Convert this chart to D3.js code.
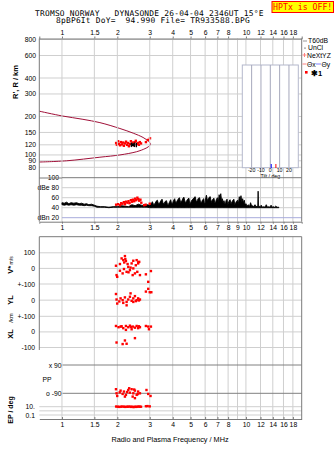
<!DOCTYPE html>
<html><head><meta charset="utf-8">
<script src="https://cdn.jsdelivr.net/npm/d3@7"></script>
<style>
body{margin:0;background:#fff}
text{font-family:"Liberation Sans",Arial,sans-serif;fill:#000}
.mono{font-family:"DejaVu Sans Mono",monospace}
</style></head><body>
<svg id="c" width="335" height="451"></svg>
<script>
// ---------- data ----------
const titleLine1 = "TROMSO NORWAY   DYNASONDE 26-04-04 2346UT 15°E";
const titleLine2 = "8pBP6It DoY=  94.990 File= TR933588.BPG";
const freqTicksTop = [1,1.5,2,3,4,5,6,7,8,10,12,14,16,18];
const freqTicksMid = [1,1.5,2,3,4,5,6,7,8,9,10,12,14,16,18];
const freqTicksBot = [1,1.5,2,3,4,5,6,7,8,10,12,14,16,18];
const gridFreqs = [1,1.5,2,3,4,5,6,7,8,9,10,12,14,16,18];
const heightTicks = [80,90,100,120,150,200,300,400,600,800];
const dbTicks = [[100,"100"],[80,"dBe 80"],[60,"60"],[40,"40"],[20,"dBn 20"]];
const tiltTicks = [-20,-10,0,10,20];

// model trace (frequency MHz, virtual height km)
const curveFreq   = [0.753,1.0,1.3,1.608,2.066,2.44,2.76,2.95,3.03,2.95,2.826,2.547,2.066,1.608,1.06,0.753];
const curveHeight = [220,202,190,179,161,148,137,128,122,116,112,106,100,96,90,88];

// echoes in the height panel
const echoFreq   = [1.97,1.99,2.02,2.04,2.07,2.09,2.12,2.15,2.17,2.20,2.23,2.26,2.28,2.31,2.34,2.37,2.40,2.43,2.46,2.49,2.52,2.56,2.59,2.62,2.65,2.69,2.86,2.93,3.01];
const echoHeight = [124,120,128,122,119,126,121,125,118,123,127,120,124,117,122,128,121,125,119,126,129,122,124,120,126,123,126,131,135];
const markFreq = [2.43], markHeight = [120];

// amplitude panel (dB): [freq, max dB, min dB] below 3 MHz
const ampLowBand = [[1.00,50,46],[1.03,49,45],[1.06,51,46],[1.09,48,45],[1.12,50,46],[1.16,49,45],[1.20,50,46],[1.24,48,45],
 [1.28,49,45],[1.32,47,44],[1.36,48,45],[1.40,46,44],[1.45,47,44],[1.50,45,43],[1.55,43,41],[1.62,42,41],[1.70,42,41],
 [1.80,41,40],[1.90,42,41],[2.00,42,41],[2.10,44,41],[2.20,43,41],[2.30,42,41],[2.40,46,41],[2.50,44,41],[2.60,47,41],
 [2.70,45,41],[2.80,44,41],[2.90,46,41],[3.00,45,40]];
// [freq, max dB] above 3 MHz, floor at noiseFloorDb
const noiseFloorDb = 40;
const ampHighBand = [[3.05,47],[3.10,52],[3.15,46],[3.20,48],[3.25,53],[3.30,55],[3.35,47],[3.40,50],[3.45,54],[3.50,57],
 [3.55,48],[3.60,49],[3.65,53],[3.70,54],[3.75,46],[3.80,47],[3.85,52],[3.90,56],[3.95,47],[4.00,50],[4.05,55],[4.10,58],
 [4.15,49],[4.20,52],[4.28,57],[4.35,60],[4.42,50],[4.50,55],[4.55,59],[4.60,61],[4.68,50],[4.75,53],[4.82,57],[4.90,59],
 [4.95,48],[5.00,50],[5.08,55],[5.15,57],[5.22,60],[5.30,62],[5.38,51],[5.45,55],[5.52,59],[5.60,60],[5.68,49],[5.75,52],
 [5.82,56],[5.90,58],[5.95,47],[6.00,50],[6.05,60],[6.10,65],[6.18,54],[6.25,58],[6.32,61],[6.40,62],[6.48,50],[6.55,55],
 [6.62,57],[6.70,59],[6.78,49],[6.85,52],[6.92,57],[7.00,60],[7.08,52],[7.15,66],[7.22,60],[7.30,68],[7.38,53],[7.45,58],
 [7.52,50],[7.60,54],[7.68,47],[7.75,50],[7.82,55],[7.90,57],[7.95,46],[8.00,48],[8.10,53],[8.20,56],[8.30,47],[8.40,52],
 [8.50,55],[8.60,57],[8.70,46],[8.80,50],[8.90,53],[9.00,55],[9.10,48],[9.20,62],[9.30,56],[9.40,64],[9.50,52],[9.60,58],
 [9.70,50],[9.80,55],[9.90,45],[10.0,48],[10.15,43],[10.3,46],[10.45,42],[10.6,50],[10.75,43],[10.9,44],[11.05,42],
 [11.2,46],[11.35,42],[11.5,43],[11.6,42],[11.65,73],[11.7,42],[11.8,43],[12.0,41],[12.1,45],[12.3,41],[12.5,42],
 [12.7,41],[12.9,46],[13.1,41],[13.3,42],[13.5,41],[13.7,45],[13.9,41],[14.1,42],[14.3,41],[14.5,43],[14.8,41],[15.0,41],[15.1,41]];
const ampEchoFreq = [1.97,2.02,2.07,2.10,2.13,2.17,2.20,2.23,2.27,2.30,2.33,2.37,2.40,2.43,2.47,2.50,2.53,2.57,2.60,2.63,2.67,2.70,2.80,2.85,3.00];
const ampEchoDb   = [46,47,45,49,48,51,47,52,50,53,49,55,52,56,53,58,55,60,57,54,56,50,45,46,48];

// lower panel
const vFreq = [1.966,1.98,1.997,2.066,2.110,2.154,2.199,2.227,2.172,2.246,2.293,2.341,2.392,2.442,2.493,2.547,2.567,2.595,2.654,2.630,2.137,2.274,2.423,2.066,2.859,2.944,3.045,2.442,2.21,2.18,2.30,2.52,2.60,2.36];
const vVal  = [17,-43,-54,28,64,53,79,47,-4,-22,10,-11,32,0,-32,53,-22,32,-43,42,-32,28,-43,-15,-38,-86,-17,49,60,38,-25,20,40,5];
const ylFreq = [1.966,1.98,1.997,2.083,2.137,2.199,2.246,2.293,2.341,2.392,2.442,2.493,2.547,2.595,2.654,2.246,2.154,2.442,2.36,2.859,2.944,3.0,3.06,2.05,2.52,2.62];
const ylVal  = [38,4,-21,11,0,17,-11,4,21,-4,11,25,0,11,4,-32,-17,-11,42,53,70,49,49,-8,-6,-2];
const xlFreq = [1.966,2.03,2.083,2.154,2.227,2.293,2.341,2.43,2.493,2.547,2.595,2.227,2.392,2.654,2.859,2.944,3.045,2.97,1.98,2.137,2.199,2.246,2.493,2.11,2.37,2.62];
const xlVal  = [38,30,34,24,38,30,40,34,27,38,24,13,17,30,38,34,34,17,-68,-78,-55,-76,-40,36,32,36];
const ppFreq = [1.966,1.98,1.997,2.083,2.137,2.172,2.227,2.293,2.341,2.392,2.442,2.493,2.547,2.595,2.654,2.423,2.199,2.88,2.944,3.03,2.32,2.493,2.06,2.26,2.47,2.58];
const ppVal  = [-64,-90,-107,-73,-94,-79,-100,-69,-86,-64,-90,-73,-100,-79,-90,-111,-111,-69,-94,-107,-58,-121,-84,-82,-66,-95];
const epFreq = [1.97,2.01,2.05,2.09,2.13,2.17,2.21,2.25,2.29,2.33,2.37,2.41,2.45,2.49,2.53,2.57,2.61,2.65,2.69,2.86,2.92,3.0];
const epVal  = [11,10,9,10,11,10,9,10,10,11,9,10,8,10,9,10,11,10,10,13,14,12];

// ---------- scales ----------
const svg = d3.select("#c");
const L = 39.3, R = 301.7;
const x = d3.scaleLog().domain([0.753, 20.1]).range([L, R]);
const yH = d3.scaleLog().domain([66, 815]).range([178, 38.5]);
const yDb = d3.scaleLinear().domain([12, 101]).range([221.7, 177.2]);
const yV = d3.scaleLinear().domain([-100, 200]).range([284, 237.2]);
const yYL = d3.scaleLinear().domain([-100, 100]).range([316.3, 284]);
const yXL = d3.scaleLinear().domain([-100, 100]).range([347.5, 316.3]);
const yPP = d3.scaleLinear().domain([-90, 90]).range([393.3, 365]);
const yEP = d3.scaleLog().domain([0.1, 10]).range([415, 406.7]);
const xT = d3.scaleLinear().domain([-30, 30]).range([242.3, 298.3]);

const grid = "#cfcfcf", frame = "#7a7a7a";
const nb = s => s.replace(/ /g, "\u00a0");

// ---------- title ----------
svg.append("text").attr("class","mono").attr("x",35).attr("y",15.6).attr("font-size",7.9)
  .attr("letter-spacing",0.22).text(nb(titleLine1));
svg.append("text").attr("class","mono").attr("x",56).attr("y",23.4).attr("font-size",7.9)
  .attr("letter-spacing",0.22).text(nb(titleLine2));
svg.append("rect").attr("x",272).attr("y",1.5).attr("width",61.5).attr("height",11).attr("fill","#ffff00").attr("stroke","#ff0000").attr("stroke-width",1);
svg.append("text").attr("class","mono").attr("x",302.7).attr("y",10.2).attr("font-size",8.2).attr("text-anchor","middle").style("fill","#ff0000").text("HPTx is OFF!");

// ---------- panel 1: heights ----------
const g1 = svg.append("g");
g1.selectAll(".hg").data(heightTicks).join("line").attr("x1",L).attr("x2",R)
  .attr("y1",d=>yH(d)).attr("y2",d=>yH(d)).attr("stroke",grid);
g1.selectAll(".hl").data(heightTicks).join("text").attr("x",36).attr("y",d=>yH(d)+2.5)
  .attr("text-anchor","end").attr("font-size",6.8).text(d=>d);
svg.selectAll(".vg1").data(gridFreqs).join("line").attr("x1",d=>x(d)).attr("x2",d=>x(d))
  .attr("y1",38.5).attr("y2",221.7).attr("stroke",grid);
svg.selectAll(".vg2").data(gridFreqs).join("line").attr("x1",d=>x(d)).attr("x2",d=>x(d))
  .attr("y1",236.7).attr("y2",419).attr("stroke",grid);
svg.append("g").attr("transform","translate(0,38.5)")
  .call(d3.axisTop(x).tickValues(freqTicksTop).tickFormat(d=>d).tickSize(2).tickPadding(1.5))
  .call(a=>{a.select(".domain").attr("stroke",frame);a.selectAll("line").attr("stroke",frame);
    a.selectAll("text").attr("font-size",6.8).attr("font-family","Liberation Sans,Arial");});
svg.append("text").attr("transform","translate(17.5,82) rotate(-90)").attr("text-anchor","middle")
  .attr("font-size",7.5).attr("font-weight","bold").text("R', R / km");

// tilt inset
const gi = svg.append("g");
gi.append("rect").attr("x",xT(-30)).attr("y",65).attr("width",xT(30)-xT(-30)).attr("height",102.7)
  .attr("fill","#fff").attr("stroke","#b4b8cc");
gi.selectAll(".tl").data(tiltTicks).join("line").attr("x1",d=>xT(d)).attr("x2",d=>xT(d))
  .attr("y1",65).attr("y2",167.7).attr("stroke","#a6a8bc");
gi.selectAll(".tt").data(tiltTicks).join("text").attr("x",d=>xT(d)).attr("y",172.3)
  .attr("text-anchor","middle").attr("font-size",5.2).text(d=>d);
gi.append("text").attr("x",xT(0)).attr("y",177.5).attr("text-anchor","middle").attr("font-size",5.2).text("Tilt / deg");
const tiltX = [1], tiltY = [6];
gi.selectAll(".bx").data(tiltX).join("line").attr("x1",d=>xT(d)).attr("x2",d=>xT(d)).attr("y1",164).attr("y2",168).attr("stroke","#0000ff").attr("stroke-width",1);
gi.selectAll(".by").data(tiltY).join("line").attr("x1",d=>xT(d)).attr("x2",d=>xT(d)).attr("y1",164).attr("y2",168).attr("stroke","#ff0000").attr("stroke-width",1);

// model curve
const curvePts = curveFreq.map((f,i)=>[f,curveHeight[i]]);
g1.append("path").datum(curvePts).attr("fill","none").attr("stroke","#a01038").attr("stroke-width",1)
  .attr("d",d3.line().x(d=>x(d[0])).y(d=>yH(d[1])).curve(d3.curveCatmullRom));
g1.selectAll(".ec").data(echoFreq).join("rect").attr("x",(d)=>x(d)-1.2).attr("y",(d,i)=>yH(echoHeight[i])-1.2)
  .attr("width",2.4).attr("height",2.4).attr("fill","#ff0000");
g1.selectAll(".mk").data(markFreq).join("path")
  .attr("d",(d,i)=>{const cx=x(d),cy=yH(markHeight[i]);return `M${cx-2},${cy-2}L${cx+2},${cy+2}M${cx+2},${cy-2}L${cx-2},${cy+2}M${cx-2.5},${cy}L${cx+2.5},${cy}M${cx+3.5},${cy-2}L${cx+3.5},${cy+2.5}`;})
  .attr("stroke","#000").attr("stroke-width",1.3);

// legend
const lg = svg.append("g").attr("font-size",6.8);
lg.append("line").attr("x1",303).attr("x2",307).attr("y1",41).attr("y2",41).attr("stroke","#999");
lg.append("text").attr("x",308).attr("y",43.3).text("T60dB");
lg.append("circle").attr("cx",305).attr("cy",48).attr("r",0.6).attr("fill","#000");
lg.append("text").attr("x",308).attr("y",50.2).text("UnCl");
lg.append("path").attr("d","M302.5,55H306.5M304.5,53V57").attr("stroke","#ff8080");
lg.append("text").attr("x",307).attr("y",57.5).text("NeXtYZ");
lg.append("line").attr("x1",302.5).attr("x2",306.5).attr("y1",64).attr("y2",64).attr("stroke","#ff8080");
lg.append("text").attr("x",307).attr("y",66.5).text("Θx");
lg.append("line").attr("x1",316).attr("x2",321).attr("y1",64).attr("y2",64).attr("stroke","#8080ff");
lg.append("text").attr("x",321.5).attr("y",66.5).text("Θy");
lg.append("rect").attr("x",305).attr("y",71).attr("width",2.6).attr("height",2.6).attr("fill","#ff0000");
lg.append("text").attr("x",311).attr("y",75.5).attr("font-weight","bold").attr("font-size",7.5).text("✱1");

// ---------- panel 2: amplitude ----------
const g2 = svg.append("g");
g2.selectAll(".dg").data(dbTicks).join("line").attr("x1",x(1)).attr("x2",R)
  .attr("y1",d=>yDb(d[0])).attr("y2",d=>yDb(d[0]))
  .attr("stroke",d=>d[0]===20?"#a8acdc":(d[0]===100?frame:grid));
g2.selectAll(".dl").data(dbTicks).join("text").attr("x",59).attr("y",d=>yDb(d[0])+2.5)
  .attr("text-anchor","end").attr("font-size",6.8).text(d=>d[1]);
g2.append("line").attr("x1",L).attr("x2",x(1)).attr("y1",178).attr("y2",178).attr("stroke",frame);
const ampPts = ampLowBand.concat(ampHighBand.map(d=>[d[0],d[1],noiseFloorDb]));
g2.append("path").datum(ampPts).attr("fill","#000").attr("stroke","#000").attr("stroke-width",0.9)
  .attr("d",d3.area().x(d=>x(d[0])).y0(d=>yDb(d[2])).y1(d=>yDb(d[1])));
g2.selectAll(".ae").data(ampEchoFreq).join("rect").attr("x",d=>x(d)-1.2).attr("y",(d,i)=>yDb(ampEchoDb[i])-1.2)
  .attr("width",2.4).attr("height",2.4).attr("fill","#ff0000");
svg.append("g").attr("transform","translate(0,221.7)")
  .call(d3.axisBottom(x).tickValues(freqTicksMid).tickFormat(d=>d).tickSize(2).tickPadding(1.5))
  .call(a=>{a.select(".domain").attr("stroke",frame);a.selectAll("line").attr("stroke",frame);
    a.selectAll("text").attr("font-size",6.8).attr("font-family","Liberation Sans,Arial");});

svg.append("line").attr("x1",L).attr("x2",L).attr("y1",38.5).attr("y2",221.7).attr("stroke",frame);
svg.append("line").attr("x1",R).attr("x2",R).attr("y1",38.5).attr("y2",221.7).attr("stroke",frame);

// ---------- panel 3: lower ----------
const g3 = svg.append("g");
const hLines = [[yV,100],[yV,0],[yV,-100],[yYL,0],[yYL,-100],[yXL,0],[yXL,-100],[yEP,10],[yEP,1],[yEP,0.1]];
g3.selectAll(".lg").data(hLines).join("line").attr("x1",L).attr("x2",R)
  .attr("y1",d=>d[0](d[1])).attr("y2",d=>d[0](d[1])).attr("stroke",grid);
const ppLines = [90,-90];
g3.selectAll(".pl").data(ppLines).join("line").attr("x1",62.5).attr("x2",R)
  .attr("y1",d=>yPP(d)).attr("y2",d=>yPP(d)).attr("stroke","#808080");
const lowLabels = [[yV(100),"100"],[yV(0),"0"],[yV(-100),"+-100"],[yYL(0),"0"],[yYL(-100),"+-100"],[yXL(0),"0"],[yXL(-100),"-100"],[yEP(10),"10."],[yEP(0.1),"0.1"]];
g3.selectAll(".ll").data(lowLabels).join("text").attr("x",35).attr("y",d=>d[0]+2.5)
  .attr("text-anchor","end").attr("font-size",6.8).text(d=>d[1]);
g3.append("text").attr("x",61.5).attr("y",yPP(90)+2.5).attr("text-anchor","end").attr("font-size",6.8).text("x 90");
g3.append("text").attr("x",61.5).attr("y",yPP(-90)+2.5).attr("text-anchor","end").attr("font-size",6.8).text("o -90");
g3.append("text").attr("x",42.5).attr("y",yPP(0)+2.5).attr("font-size",6.8).text("PP");
svg.append("line").attr("x1",L).attr("x2",R).attr("y1",236.7).attr("y2",236.7).attr("stroke",frame);
svg.append("line").attr("x1",L).attr("x2",L).attr("y1",236.7).attr("y2",350).attr("stroke",frame);
svg.append("line").attr("x1",R).attr("x2",R).attr("y1",236.7).attr("y2",419).attr("stroke",frame);
svg.append("g").attr("transform","translate(0,419)")
  .call(d3.axisBottom(x).tickValues(freqTicksBot).tickFormat(d=>d).tickSize(0).tickPadding(3.5))
  .call(a=>{a.select(".domain").attr("stroke",frame);
    a.selectAll("text").attr("font-size",6.8).attr("font-family","Liberation Sans,Arial");});
svg.append("g").attr("transform","translate(0,419)")
  .call(d3.axisTop(x).tickValues(freqTicksBot).tickFormat("").tickSize(2))
  .call(a=>{a.select(".domain").remove();a.selectAll("line").attr("stroke",frame);});

const ylab = (cx,cy,t,fs)=>svg.append("text").attr("transform",`translate(${cx},${cy}) rotate(-90)`)
  .attr("text-anchor","middle").attr("font-size",fs).attr("font-weight","bold").text(t);
const vl = svg.append("text").attr("transform","translate(13,265) rotate(-90)").attr("text-anchor","middle").attr("font-weight","bold");
vl.append("tspan").attr("font-size",7.5).text("V*");
vl.append("tspan").attr("font-size",5).attr("font-weight","normal").text(" m/s");
ylab(13,300,"YL",7.5);
ylab(13,318,"/km",6).attr("font-weight","normal");
ylab(13,334,"XL",7.5);
ylab(13,410,"EP / deg",7);
svg.append("text").attr("x",170).attr("y",441.5).attr("text-anchor","middle").attr("font-size",7.3).text("Radio and Plasma Frequency / MHz");

const sq = (g,fs,vs,ys)=>g.selectAll(null).data(fs).join("rect").attr("x",d=>x(d)-1.2)
  .attr("y",(d,i)=>ys(vs[i])-1.2).attr("width",2.4).attr("height",2.4).attr("fill","#ff0000");
sq(g3,vFreq,vVal,yV);
sq(g3,ylFreq,ylVal,yYL);
sq(g3,xlFreq,xlVal,yXL);
sq(g3,ppFreq,ppVal,yPP);
sq(g3,epFreq,epVal,yEP);
</script></body></html>
